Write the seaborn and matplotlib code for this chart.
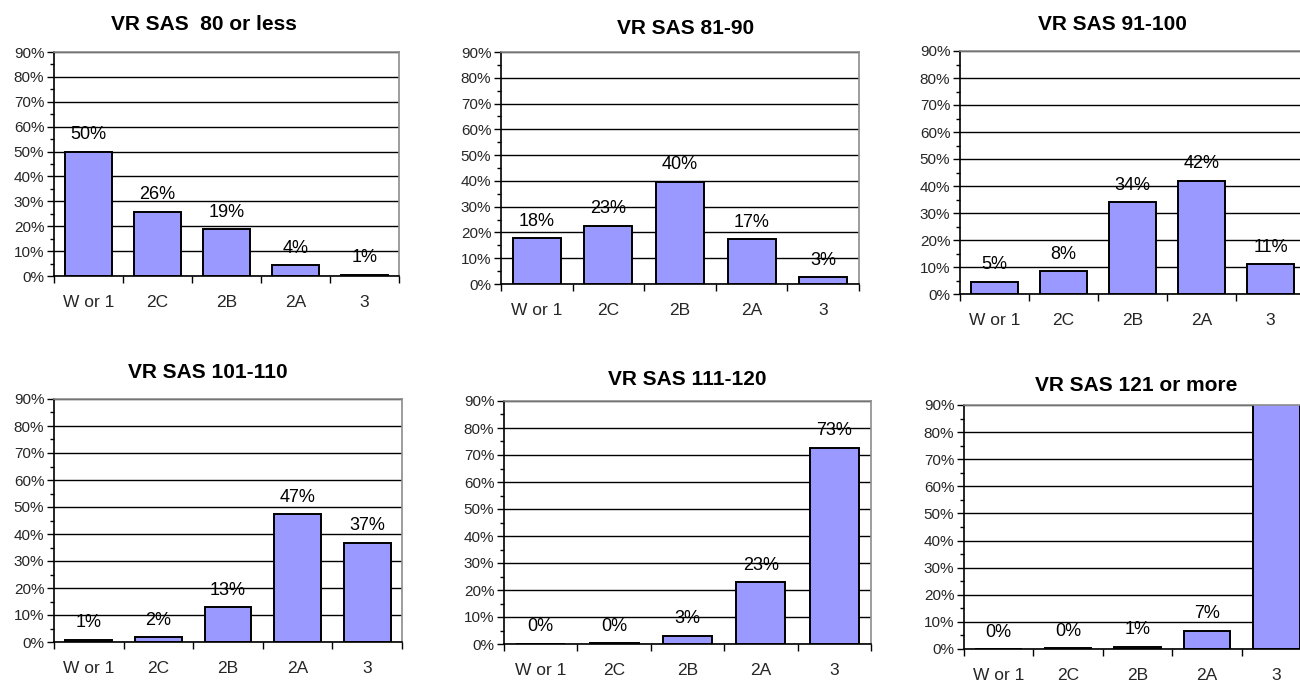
import matplotlib
matplotlib.use("Agg")
import matplotlib.pyplot as plt
import matplotlib.ticker as mticker
import pandas as pd
import seaborn as sns

# --- data ---
categories = ["W or 1", "2C", "2B", "2A", "3"]

titles = [
    "VR SAS  80 or less",
    "VR SAS 81-90",
    "VR SAS 91-100",
    "VR SAS 101-110",
    "VR SAS 111-120",
    "VR SAS 121 or more",
]

sas_80_less = [50.0, 25.9, 18.9, 4.3, 0.6]
sas_81_90 = [17.7, 22.6, 39.7, 17.3, 2.6]
sas_91_100 = [4.6, 8.4, 34.0, 42.0, 11.1]
sas_101_110 = [0.9, 1.9, 12.8, 47.4, 36.8]
sas_111_120 = [0.1, 0.4, 3.1, 23.0, 72.7]
sas_121_more = [0.0, 0.2, 0.8, 6.8, 92.0]

series = [sas_80_less, sas_81_90, sas_91_100, sas_101_110, sas_111_120, sas_121_more]

# axes boxes in pixels: left, right, top, bottom (image is 1300x682)
W, H = 1300, 682
boxes_px = [
    (54, 399, 52, 276),
    (501, 859, 52, 284),
    (960, 1305, 51, 294),
    (54, 402, 399, 642),
    (504, 871, 401, 644),
    (964, 1311, 405, 649),
]
# title centres in pixels
title_px = [(204, 25), (686, 28), (1112, 25), (208, 373), (687, 380), (1136, 385)]

BAR = "#9999FF"

sns.set_theme(style="white")
plt.rcParams["font.family"] = ["Liberation Sans", "DejaVu Sans"]

fig = plt.figure(figsize=(W / 100, H / 100), dpi=100)

for vals, title, (l, r, t, b), (tx, ty) in zip(series, titles, boxes_px, title_px):
    ax = fig.add_axes([l / W, 1 - b / H, (r - l) / W, (b - t) / H])
    df = pd.DataFrame({"cat": categories, "val": vals})
    sns.barplot(data=df, x="cat", y="val", color=BAR, saturation=1,
                edgecolor="black", linewidth=1.4, width=0.67, ax=ax)

    ax.set_xlim(-0.5, len(categories) - 0.5)
    ax.set_ylim(0, 90)
    ax.set_xlabel("")
    ax.set_ylabel("")

    # y axis: 10% major, 5% minor, ticks out
    ax.yaxis.set_major_locator(mticker.MultipleLocator(10))
    ax.yaxis.set_minor_locator(mticker.MultipleLocator(5))
    ax.yaxis.set_major_formatter(mticker.FuncFormatter(lambda v, p: f"{v:.0f}%"))
    ax.tick_params(axis="y", which="major", left=True, direction="out",
                   length=5, width=1, color="black", labelsize=11, pad=2)
    ax.tick_params(axis="y", which="minor", left=True, direction="out",
                   length=3, width=1, color="black")

    # x axis: labels at centres, tick marks at category boundaries
    ax.set_xticks(range(len(categories)))
    ax.set_xticklabels(categories)
    ax.set_xticks([i - 0.5 for i in range(len(categories) + 1)], minor=True)
    ax.tick_params(axis="x", which="major", bottom=False, labelsize=12.5, pad=7.5)
    ax.tick_params(axis="x", which="minor", bottom=True, direction="out",
                   length=5, width=1, color="black")

    ax.grid(axis="y", which="major", color="black", linewidth=1)
    ax.grid(axis="x", visible=False)
    ax.set_axisbelow(True)

    for side in ("left", "bottom"):
        ax.spines[side].set_color("black")
        ax.spines[side].set_linewidth(1.2)
    for side in ("top", "right"):
        ax.spines[side].set_visible(True)
        ax.spines[side].set_color("#8c8c8c")
        ax.spines[side].set_linewidth(1.2)

    # value labels above bars
    for i, v in enumerate(vals):
        ax.annotate(f"{v:.0f}%", xy=(i, v), xytext=(0, 6),
                    textcoords="offset points", ha="center", va="bottom",
                    fontsize=13, color="black")

    fig.text(tx / W, 1 - ty / H, title, ha="center", va="center",
             fontsize=15, fontweight="bold", color="black")

fig.savefig("out.png", dpi=100, facecolor="white")
plt.close(fig)
